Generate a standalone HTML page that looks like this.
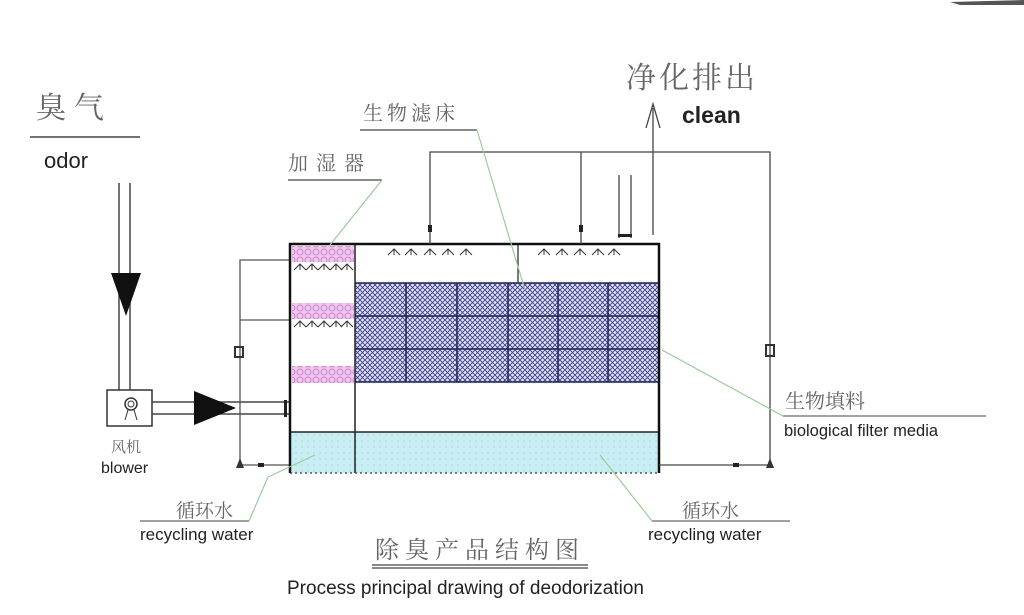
<!DOCTYPE html>
<html><head><meta charset="utf-8"><style>
html,body{margin:0;padding:0;background:#fff;}
svg{display:block;}
.cn{font-family:"Liberation Serif","Noto Serif CJK SC","Noto Sans CJK SC",serif;fill:#666;}
.en{font-family:"Liberation Sans","Noto Sans CJK SC",sans-serif;fill:#222;}
</style></head><body>
<svg width="1024" height="615" viewBox="0 0 1024 615" xmlns="http://www.w3.org/2000/svg">
<defs>
<pattern id="mesh" width="5" height="5" patternUnits="userSpaceOnUse">
<rect width="5" height="5" fill="#e2e3f6"/>
<path d="M0 0L5 5M5 0L0 5" stroke="#3a3f8a" stroke-width="0.9"/>
</pattern>
<pattern id="pink" width="8" height="8" patternUnits="userSpaceOnUse">
<rect width="8" height="8" fill="#f0c8ee"/>
<circle cx="4" cy="4" r="3" fill="none" stroke="#c070c0" stroke-width="0.8"/>
</pattern>
<pattern id="water" width="6" height="6" patternUnits="userSpaceOnUse">
<rect width="6" height="6" fill="#c8eef4"/>
<circle cx="2" cy="3" r="0.6" fill="#9cc"/>
</pattern>
<g id="noz"><path d="M-6 6 L0 0 L6 6 M0 0 L0 6" stroke="#333" stroke-width="1" fill="none"/></g>
</defs>

<path d="M950 2 L1024 0 L1024 5 L960 5 Z" fill="#555"/>

<text x="36" y="118" class="cn" font-size="30" letter-spacing="8">臭气</text>
<line x1="30" y1="137" x2="140" y2="137" stroke="#444" stroke-width="1.5"/>
<text x="44" y="168" class="en" font-size="22">odor</text>

<line x1="119" y1="183" x2="119" y2="390" stroke="#444" stroke-width="1.5"/>
<line x1="130" y1="183" x2="130" y2="390" stroke="#444" stroke-width="1.5"/>
<polygon points="111,273 141,273 126,316" fill="#111"/>

<rect x="107" y="390" width="45" height="36" fill="#fff" stroke="#333" stroke-width="1.5"/>
<circle cx="131" cy="404" r="6" fill="none" stroke="#333" stroke-width="1.5"/>
<circle cx="131" cy="404" r="3" fill="none" stroke="#333"/>
<path d="M125 420 L128 410 M137 420 L134 410" stroke="#333"/>
<text x="111" y="452" class="cn" font-size="15">风机</text>
<text x="101" y="473" class="en" font-size="16" fill="#333">blower</text>

<line x1="152" y1="402" x2="290" y2="402" stroke="#444" stroke-width="1.5"/>
<line x1="152" y1="414" x2="290" y2="414" stroke="#444" stroke-width="1.5"/>
<polygon points="194,391 194,425 236,408" fill="#111"/>
<rect x="284" y="400" width="3" height="17" fill="#222"/>

<polyline points="290,260 240,260 240,465 290,465" fill="none" stroke="#555" stroke-width="1.3"/>
<line x1="240" y1="320" x2="290" y2="320" stroke="#555" stroke-width="1.3"/>
<rect x="235" y="347" width="8" height="10" fill="none" stroke="#333" stroke-width="2"/>
<path d="M236 468 L240 458 L244 468 Z" fill="#333"/>
<rect x="258" y="463" width="6" height="4" fill="#222"/>

<rect x="290" y="432" width="369" height="41" fill="url(#water)"/>
<rect x="355" y="283" width="304" height="99" fill="url(#mesh)"/>
<g stroke="#1a1f55" stroke-width="1.5">
<line x1="355" y1="316" x2="659" y2="316"/>
<line x1="355" y1="349" x2="659" y2="349"/>
<line x1="355" y1="283" x2="659" y2="283"/>
<line x1="355" y1="382" x2="659" y2="382"/>
<line x1="406" y1="283" x2="406" y2="382"/>
<line x1="457" y1="283" x2="457" y2="382"/>
<line x1="508" y1="283" x2="508" y2="382"/>
<line x1="558" y1="283" x2="558" y2="382"/>
<line x1="608" y1="283" x2="608" y2="382"/>
</g>
<rect x="292" y="246" width="62" height="16" fill="url(#pink)"/>
<rect x="292" y="303" width="62" height="16" fill="url(#pink)"/>
<rect x="292" y="366" width="62" height="17" fill="url(#pink)"/>
<g>
<use href="#noz" x="300" y="264"/><use href="#noz" x="312" y="264"/><use href="#noz" x="324" y="264"/><use href="#noz" x="336" y="264"/><use href="#noz" x="347" y="264"/>
<use href="#noz" x="300" y="321"/><use href="#noz" x="312" y="321"/><use href="#noz" x="324" y="321"/><use href="#noz" x="336" y="321"/><use href="#noz" x="347" y="321"/>
<use href="#noz" x="394" y="249"/><use href="#noz" x="411" y="249"/><use href="#noz" x="430" y="249"/><use href="#noz" x="448" y="249"/><use href="#noz" x="466" y="249"/>
<use href="#noz" x="544" y="249"/><use href="#noz" x="562" y="249"/><use href="#noz" x="580" y="249"/><use href="#noz" x="598" y="249"/><use href="#noz" x="614" y="249"/>
</g>
<line x1="518" y1="244" x2="518" y2="283" stroke="#333" stroke-width="1.3"/>
<line x1="290" y1="432" x2="659" y2="432" stroke="#222" stroke-width="1.5"/>
<line x1="355" y1="244" x2="355" y2="473" stroke="#222" stroke-width="1.5"/>
<line x1="290" y1="473" x2="659" y2="473" stroke="#555" stroke-width="1.5" stroke-dasharray="2 3"/>
<polyline points="290,473 290,244 659,244 659,473" fill="none" stroke="#111" stroke-width="2.5"/>

<polyline points="430,244 430,152 770,152 770,465 659,465" fill="none" stroke="#444" stroke-width="1.3"/>
<line x1="581" y1="152" x2="581" y2="244" stroke="#444" stroke-width="1.3"/>
<rect x="428" y="225" width="4" height="7" fill="#222"/>
<rect x="579" y="225" width="4" height="7" fill="#222"/>
<rect x="766" y="345" width="8" height="11" fill="none" stroke="#333" stroke-width="2"/>
<path d="M766 468 L770 458 L774 468 Z" fill="#333"/>
<rect x="733" y="463" width="6" height="4" fill="#222"/>
<line x1="619" y1="175" x2="619" y2="238" stroke="#444" stroke-width="1.3"/>
<line x1="631" y1="175" x2="631" y2="238" stroke="#444" stroke-width="1.3"/>
<rect x="618" y="234" width="14" height="3" fill="#222"/>

<line x1="653" y1="108" x2="653" y2="235" stroke="#444" stroke-width="1.3"/>
<path d="M646 128 L653 104 L660 128" fill="none" stroke="#444" stroke-width="1.3"/>
<text x="626" y="88" class="cn" font-size="30" fill="#444" letter-spacing="3">净化排出</text>
<text x="682" y="123" class="en" font-size="23" font-weight="bold">clean</text>

<text x="363" y="120" class="cn" font-size="20" letter-spacing="4">生物滤床</text>
<line x1="360" y1="130" x2="477" y2="130" stroke="#444" stroke-width="1.3"/>
<line x1="477" y1="130" x2="525" y2="290" stroke="#9c9" stroke-width="1.2"/>
<text x="288" y="170" class="cn" font-size="20" letter-spacing="8">加湿器</text>
<line x1="288" y1="180" x2="382" y2="180" stroke="#444" stroke-width="1.3"/>
<line x1="382" y1="180" x2="330" y2="245" stroke="#9c9" stroke-width="1.2"/>

<text x="785" y="408" class="cn" font-size="20">生物填料</text>
<line x1="783" y1="416" x2="986" y2="416" stroke="#444" stroke-width="1"/>
<line x1="783" y1="416" x2="662" y2="350" stroke="#9c9" stroke-width="1.2"/>
<text x="784" y="436" class="en" font-size="16.5" fill="#333">biological filter media</text>

<text x="176" y="517" class="cn" font-size="19">循环水</text>
<line x1="140" y1="521" x2="249" y2="521" stroke="#444" stroke-width="1"/>
<line x1="249" y1="521" x2="268" y2="477" stroke="#9c9" stroke-width="1.2"/>
<line x1="268" y1="477" x2="315" y2="455" stroke="#9c9" stroke-width="1"/>
<text x="140" y="540" class="en" font-size="17" fill="#333">recycling water</text>

<text x="682" y="517" class="cn" font-size="19">循环水</text>
<line x1="652" y1="521" x2="790" y2="521" stroke="#444" stroke-width="1"/>
<line x1="652" y1="521" x2="600" y2="455" stroke="#9c9" stroke-width="1.2"/>
<text x="648" y="540" class="en" font-size="17" fill="#333">recycling water</text>

<text x="375" y="558" class="cn" font-size="24" letter-spacing="6">除臭产品结构图</text>
<line x1="372" y1="565" x2="588" y2="565" stroke="#444" stroke-width="1.2"/>
<line x1="372" y1="568" x2="588" y2="568" stroke="#444" stroke-width="1.2"/>
<text x="287" y="594" class="en" font-size="19" fill="#333">Process principal drawing of deodorization</text>
</svg>
</body></html>
